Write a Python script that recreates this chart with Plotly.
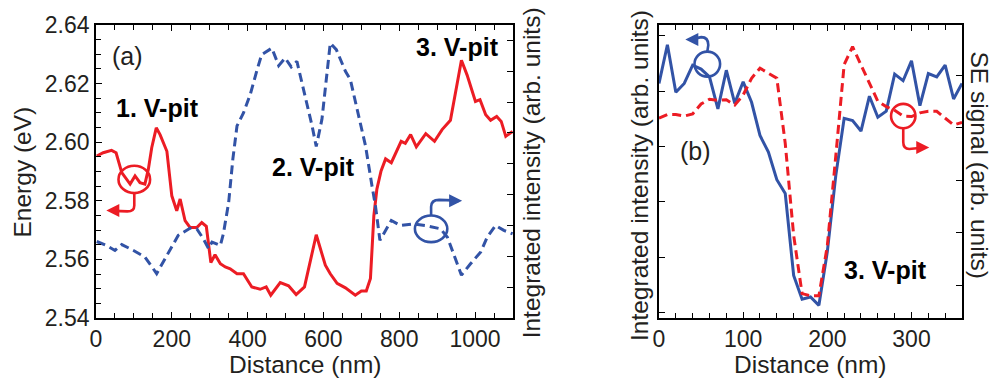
import plotly.graph_objects as go

# ---------------- panel (a): energy and integrated intensity along a line scan
dist_energy_nm = [2, 19, 41, 53, 68, 90, 103, 116, 129, 138, 147, 159, 169, 187, 200, 213, 222, 235,
                  248, 266, 279, 291, 303, 314, 328, 341, 354, 372, 389, 411, 433, 449, 461, 486, 508,
                  528, 550, 581, 605, 618, 636, 658, 684, 700, 713, 724, 733, 741, 752, 764, 779, 805,
                  816, 830, 845, 870, 893, 913, 935, 964, 979, 1001, 1013, 1028, 1041, 1057, 1069,
                  1081, 1099]
energy_ev = [2.5953, 2.5964, 2.5972, 2.5964, 2.5896, 2.5857, 2.5885, 2.5862, 2.5857, 2.5907, 2.5981,
             2.6049, 2.6026, 2.5969, 2.5817, 2.5766, 2.5806, 2.5732, 2.5709, 2.5709, 2.5726, 2.5713,
             2.5589, 2.5616, 2.5585, 2.5574, 2.5568, 2.5551, 2.5551, 2.5506, 2.5498, 2.5506, 2.5478,
             2.5521, 2.5510, 2.5480, 2.5506, 2.5684, 2.5580, 2.5551, 2.5518, 2.5503, 2.5478, 2.5492,
             2.5492, 2.5535, 2.5749, 2.5840, 2.5902, 2.5943, 2.5930, 2.6003, 2.5996, 2.6026, 2.5984,
             2.6029, 2.6003, 2.6043, 2.6075, 2.6280, 2.6229, 2.6139, 2.6145, 2.6094, 2.6075, 2.6088,
             2.6071, 2.6020, 2.6037]

dist_intensity_nm = [2, 28, 50, 68, 99, 129, 160, 187, 217, 248, 266, 283, 297, 306, 328, 336, 350,
                     361, 372, 389, 407, 425, 437, 464, 482, 499, 515, 530, 552, 570, 581, 596, 618,
                     634, 658, 671, 689, 711, 728, 737, 749, 779, 803, 838, 869, 909, 927, 964, 988,
                     1015, 1032, 1054, 1076, 1099]
intensity_a = [2.48, 2.35, 2.19, 2.38, 2.19, 1.98, 1.44, 2.03, 2.68, 2.91, 2.89, 2.57, 2.25, 2.46,
               2.35, 2.73, 3.75, 5.15, 6.23, 6.65, 7.25, 8.05, 8.54, 8.75, 8.18, 8.43, 8.14, 8.32,
               7.19, 6.23, 5.56, 6.44, 8.91, 8.70, 8.00, 7.73, 6.76, 5.58, 4.29, 3.65, 2.52, 3.16,
               3.00, 3.05, 3.00, 2.89, 2.62, 1.39, 1.76, 2.14, 2.62, 3.00, 2.84, 2.73]

# ---------------- panel (b): integrated intensity and SE signal across V-pit 3
dist_b_nm = list(range(0, 361, 10))
intensity_b = [4.14, 4.84, 3.98, 4.14, 4.47, 4.40, 4.26, 3.68, 4.38, 3.78, 4.17, 3.80, 3.20, 2.90,
               2.40, 2.15, 0.67, 0.24, 0.28, 0.13, 1.10, 2.47, 3.51, 3.47, 3.28, 3.91, 3.53, 3.64,
               4.31, 4.19, 4.55, 3.74, 4.32, 4.26, 4.47, 3.86, 4.14]
se_signal = [4.18, 4.25, 4.25, 4.22, 4.26, 4.45, 4.54, 4.52, 4.53, 4.43, 4.62, 4.94, 5.13, 5.03,
             4.94, 3.70, 1.95, 0.84, 0.80, 0.80, 1.75, 3.45, 5.20, 5.54, 5.20, 4.83, 4.50, 4.40,
             4.33, 4.22, 4.21, 4.28, 4.31, 4.31, 4.18, 4.05, 4.10]

RED = "#EC1C24"
BLUE = "#3253A6"
FONT = "Liberation Sans, Arial, Helvetica, sans-serif"
TXT = "#231F20"

fig = go.Figure()
fig.add_trace(go.Scatter(x=dist_energy_nm, y=energy_ev, mode="lines",
                         line=dict(color=RED, width=3), xaxis="x", yaxis="y"))
fig.add_trace(go.Scatter(x=dist_intensity_nm, y=intensity_a, mode="lines",
                         line=dict(color=BLUE, width=3, dash="9px,5px"), xaxis="x", yaxis="y2"))
fig.add_trace(go.Scatter(x=dist_b_nm, y=intensity_b, mode="lines",
                         line=dict(color=BLUE, width=3), xaxis="x2", yaxis="y3"))
fig.add_trace(go.Scatter(x=dist_b_nm, y=se_signal, mode="lines",
                         line=dict(color=RED, width=3, dash="9px,5px"), xaxis="x2", yaxis="y4"))

frame = dict(showline=True, linecolor="black", linewidth=1.6, showgrid=False, zeroline=False,
             ticks="inside", ticklen=6, tickwidth=1.3, tickcolor="black",
             tickfont=dict(family=FONT, size=23, color=TXT))
minor = dict(ticks="inside", ticklen=5, tickwidth=1.3, tickcolor="black", showgrid=False)

fig.update_layout(
    width=995, height=383, margin=dict(l=96, r=33, t=23, b=65),
    paper_bgcolor="white", plot_bgcolor="white", showlegend=False,
    font=dict(family=FONT, color=TXT),
    xaxis=dict(frame, domain=[0, 0.4815], range=[0, 1100], tick0=0, dtick=200,
               minor=dict(minor, dtick=50), mirror="ticks", anchor="y"),
    yaxis=dict(frame, range=[2.54, 2.64], tick0=2.54, dtick=0.02, tickformat=".2f",
               minor=dict(minor, dtick=0.005), mirror=True, anchor="x"),
    yaxis2=dict(frame, overlaying="y", side="right", anchor="x", range=[0, 9.5],
                tickvals=list(range(1, 10)), showticklabels=False, showline=False),
    xaxis2=dict(frame, domain=[0.6501, 1], range=[0, 360], tick0=0, dtick=100,
                minor=dict(minor, dtick=20), mirror="ticks", anchor="y3"),
    yaxis3=dict(frame, range=[-0.099, 5.197], tickvals=list(range(0, 6)),
                showticklabels=False, mirror=True, anchor="x2"),
    yaxis4=dict(frame, overlaying="y3", side="right", anchor="x2", range=[0.376, 5.953],
                tickvals=list(range(1, 6)), showticklabels=False, showline=False),
)

# axis titles
title_font = dict(family=FONT, size=24.5, color=TXT)
titles = [
    ("Energy (eV)", -0.0843, 0.5, -90),
    ("Distance (nm)", 0.2408, -0.159, 0),
    ("Integrated intensity (arb. units)", 0.5031, 0.496, -90),
    ("Integrated intensity (arb. units)", 0.627, 0.488, -90),
    ("SE signal (arb. units)", 1.0208, 0.524, 90),
    ("Distance (nm)", 0.8245, -0.159, 0),
]
for text, x, y, ang in titles:
    fig.add_annotation(text=text, x=x, y=y, xref="paper", yref="paper", textangle=ang,
                       showarrow=False, xanchor="center", yanchor="middle", font=title_font)

# panel labels
labels = [
    ("(a)", "x", "y", 83, 2.6295, False),
    ("1. V-pit", "x", "y", 162, 2.6117, True),
    ("2. V-pit", "x", "y", 573, 2.5915, True),
    ("3. V-pit", "x", "y", 953, 2.6325, True),
    ("(b)", "x2", "y3", 43, 2.92, False),
    ("3. V-pit", "x2", "y3", 269, 0.76, True),
]
for text, xr, yr, x, y, is_bold in labels:
    fig.add_annotation(text=f"<b>{text}</b>" if is_bold else text, x=x, y=y, xref=xr, yref=yr,
                       showarrow=False, xanchor="center", yanchor="middle",
                       font=dict(family=FONT, size=25 if is_bold else 25,
                                 color="black" if is_bold else TXT))


def axis_marker(xr, yr, xa, ya, rx, ry, tail, head, color):
    """Ellipse around a curve with a curved tail ending in an arrow (pixel offsets, +y up)."""
    fig.add_shape(type="circle", xref=xr, yref=yr, xsizemode="pixel", ysizemode="pixel",
                  xanchor=xa, yanchor=ya, x0=-rx, x1=rx, y0=-ry, y1=ry,
                  line=dict(color=color, width=2.6))
    fig.add_shape(type="path", xref=xr, yref=yr, xsizemode="pixel", ysizemode="pixel",
                  xanchor=xa, yanchor=ya, path=tail, line=dict(color=color, width=2.6))
    hx, hy, dx = head
    fig.add_annotation(x=xa, y=ya, xref=xr, yref=yr, xshift=hx, yshift=hy, text="",
                       showarrow=True, arrowhead=2, arrowsize=1.0, arrowwidth=2.6,
                       arrowcolor=color, ax=dx, ay=0)


# energy axis marker (left) in panel (a)
axis_marker("x", "y", 101, 2.5873, 15.8, 13.7,
            "M0,-13.7 L0,-26 Q0,-32 -7,-32 L-20,-31.5", (-28, -31, 10), RED)
# intensity axis marker (right) in panel (a)
axis_marker("x", "y2", 884, 2.89, 16.2, 13.3,
            "M0,13.3 L0,22 Q0,29 8,29 L22,28.5", (31, 28, -11), BLUE)
# intensity axis marker (left) in panel (b)
axis_marker("x2", "y3", 57.4, 4.49, 12.8, 12.5,
            "M0,12.5 L1,19 Q1,27 -6,27 L-13,25.5", (-22, 24.5, 10), BLUE)
# SE axis marker (right) in panel (b)
axis_marker("x2", "y4", 290.2, 4.22, 12.2, 12.2,
            "M0,-12.2 L0,-26 Q0,-33 6,-33 L16,-32", (26, -31.5, -11), RED)

fig.write_html("out.html")
